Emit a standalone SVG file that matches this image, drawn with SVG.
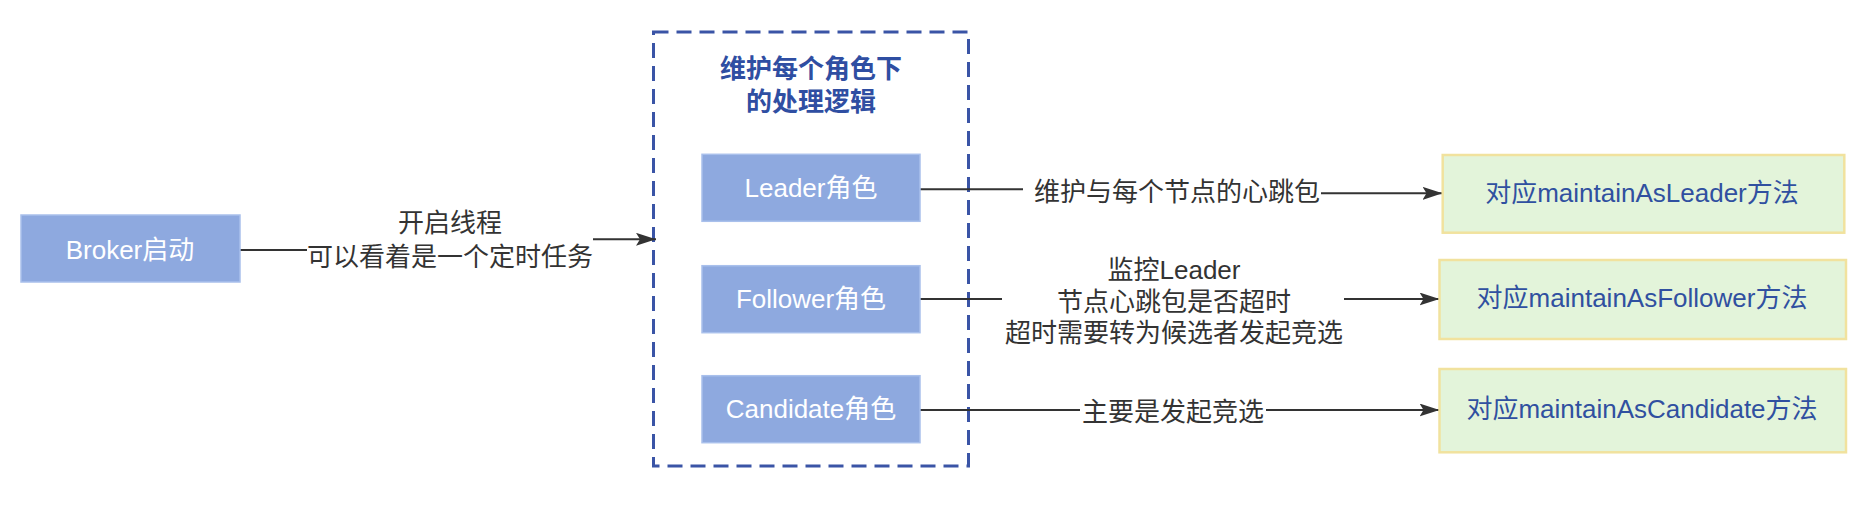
<svg xmlns="http://www.w3.org/2000/svg" width="1872" height="508" viewBox="0 0 1872 508">
<style>
  text { font-family: "Liberation Sans", "Noto Sans CJK SC", sans-serif; font-size: 26px; dominant-baseline: central; text-anchor: middle; }
  .role { fill: #8EA9DF; stroke: #A9C0EC; stroke-width: 1.5; }
  .roleText { fill: #FFFFFF; }
  .method { fill: #E3F4DA; stroke: #F1E29E; stroke-width: 2.5; }
  .methodText { fill: #3050A0; }
  .title { fill: #2F4EA2; font-weight: bold; }
  .edge { fill: none; stroke: #333333; stroke-width: 2; }
  .lbl { fill: #333333; }
  .lblbg { fill: #FFFFFF; }
</style>
<defs>
  <marker id="arrow" markerUnits="userSpaceOnUse" markerWidth="20" markerHeight="13" refX="20" refY="6.5" orient="auto">
    <path d="M0,0 L20,6.5 L0,13 L4,6.5 Z" fill="#333333"/>
  </marker>
</defs>
<rect width="1872" height="508" fill="#FFFFFF"/>

<g id="group-roles">
  <rect x="653.5" y="32" width="315" height="434" fill="none" stroke="#3A54A6" stroke-width="3" stroke-dasharray="15 8"/>
  <text class="title" x="811" y="69">维护每个角色下</text>
  <text class="title" x="811" y="102">的处理逻辑</text>
</g>

<g id="connectors">
  <path class="edge" d="M240,250 H450 V239.3 H656" marker-end="url(#arrow)"/>
  <path class="edge" d="M920,189.3 H1177 V193.3 H1442.5" marker-end="url(#arrow)"/>
  <path class="edge" d="M920,299 L1439.5,299" marker-end="url(#arrow)"/>
  <path class="edge" d="M920,410 L1439.5,410" marker-end="url(#arrow)"/>
  <rect class="lblbg" x="307" y="206" width="286" height="68"/>
  <text class="lbl" x="450" y="223">开启线程</text>
  <text class="lbl" x="450" y="257">可以看着是一个定时任务</text>
  <rect class="lblbg" x="1023" y="176" width="298" height="32"/>
  <text class="lbl" x="1177" y="192">维护与每个节点的心跳包</text>
  <rect class="lblbg" x="1002" y="254" width="342" height="96"/>
  <text class="lbl" x="1174" y="270">监控Leader</text>
  <text class="lbl" x="1174" y="302">节点心跳包是否超时</text>
  <text class="lbl" x="1174" y="333">超时需要转为候选者发起竞选</text>
  <rect class="lblbg" x="1080" y="395" width="186" height="32"/>
  <text class="lbl" x="1173" y="411.5">主要是发起竞选</text>
</g>

<g id="node-broker">
  <rect class="role" x="21" y="215" width="219" height="67"/>
  <text class="roleText" x="130" y="250">Broker启动</text>
</g>

<g id="node-leader">
  <rect class="role" x="702" y="154.3" width="218" height="67"/>
  <text class="roleText" x="811" y="188.3">Leader角色</text>
</g>

<g id="node-follower">
  <rect class="role" x="702" y="265.7" width="218" height="67"/>
  <text class="roleText" x="811" y="298.5">Follower角色</text>
</g>

<g id="node-candidate">
  <rect class="role" x="702" y="375.7" width="218" height="67"/>
  <text class="roleText" x="811" y="409.3">Candidate角色</text>
</g>

<g id="node-leader-method">
  <rect class="method" x="1442.7" y="155" width="401.6" height="77.7"/>
  <text class="methodText" x="1642" y="192.7">对应maintainAsLeader方法</text>
</g>

<g id="node-follower-method">
  <rect class="method" x="1439.5" y="260" width="406.5" height="79"/>
  <text class="methodText" x="1642" y="298.3">对应maintainAsFollower方法</text>
</g>

<g id="node-candidate-method">
  <rect class="method" x="1439.5" y="369" width="406.5" height="83.3"/>
  <text class="methodText" x="1642" y="409.3">对应maintainAsCandidate方法</text>
</g>
</svg>
